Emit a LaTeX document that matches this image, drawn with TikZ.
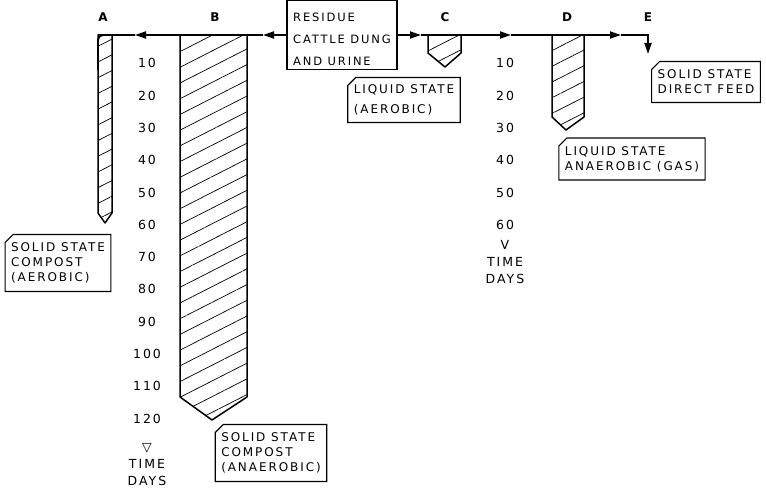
\documentclass[tikz,border=0pt]{standalone}
\usepackage{fontspec}
\newfontfamily\plotfont[LetterSpace=16]{DejaVu Sans}
\usetikzlibrary{shapes.misc, patterns.meta, arrows.meta}

\tikzset{
  flow/.style = {line width=1.8pt},
  tip/.style = {-{Triangle[length=11pt, width=7pt]}},
  bar/.style = {line width=1.5pt, line join=round,
    pattern={Lines[angle=27, distance=14pt, line width=0.7pt]}},
  tag/.style = {draw, line width=1.1pt, chamfered rectangle,
    chamfered rectangle corners=north west,
    chamfered rectangle xsep=4pt, chamfered rectangle ysep=4pt,
    align=left, inner sep=2pt,
    font=\plotfont\fontsize{12}{15}\selectfont},
  num/.style = {font=\plotfont\fontsize{12.5}{17}\selectfont},
  letter/.style = {font=\plotfont\bfseries\fontsize{12}{13}\selectfont}
}

\begin{document}
\begin{tikzpicture}[x=1pt, y=-1pt]
		\useasboundingbox (0,0) rectangle (766,489);
		%%%%%%%%%%%%%
		\draw[bar] (98,35) -- (112,35) -- (112,213) -- (105,223) -- (98,213) -- cycle;
		\draw[bar] (180,35) -- (247,35) -- (247,397) -- (212,420) -- (180,397) -- cycle;
		\draw[bar] (428,35) -- (461,35) -- (461,53) -- (445,67) -- (428,53) -- cycle;
		\draw[bar] (552,35) -- (584,35) -- (584,117) -- (566,130) -- (552,117) -- cycle;
		%%%%%%%%%%%%%
		\node[letter] (la) at (103,17) {A};
		\node[letter] (lb) at (215,17) {B};
		\node[letter] (lc) at (445,17) {C};
		\node[letter] (ld) at (567,17) {D};
		\node[letter] (le) at (648,17) {E};
		%%%%%%%%%%%%%
		\node[draw, line width=1.1pt, align=left, minimum width=110pt, minimum height=62pt,
			font=\plotfont\fontsize{11.5}{22}\selectfont] (res) at (342,35)
			{\rule{0pt}{18pt}RESIDUE\\CATTLE DUNG\\AND URINE};
		\node[tag, minimum width=99pt, minimum height=57pt] (aer) at (58,263)
			{SOLID STATE\\COMPOST\\(AEROBIC)};
		\node[tag, minimum width=109pt, minimum height=57pt] (ana) at (271,453)
			{SOLID STATE\\COMPOST\\(ANAEROBIC)};
		\node[tag, minimum width=104pt, minimum height=45pt,
			font=\plotfont\fontsize{12}{20}\selectfont] (liq) at (404,100)
			{LIQUID STATE\\(AEROBIC)};
		\node[tag, minimum width=131pt, minimum height=42pt] (gas) at (632,159)
			{LIQUID STATE\\ANAEROBIC (GAS)};
		\node[tag, minimum width=100pt, minimum height=41pt] (feed) at (706,82)
			{SOLID STATE\\DIRECT FEED};
		%%%%%%%%%%%%%
		\coordinate (kB) at (263,35); \coordinate (kA) at (135,35);
		\coordinate (kAc) at (98,35); \coordinate (kAd) at (98,70);
		\coordinate (kC) at (421,35); \coordinate (kD) at (511,35);
		\coordinate (kE) at (621,35); \coordinate (kEc) at (648,35);
		\coordinate (kEd) at (648,54);
		\draw[flow, tip] (res.west) to (kB); \draw[flow, tip] (kB) to (kA);
		\draw[flow, rounded corners=5pt] (kA) -- (kAc) -- (kAd);
		\draw[flow, tip] (res.east) to (kC); \draw[flow, tip] (kC) to (kD);
		\draw[flow, tip] (kD) to (kE);
		\draw[flow, tip] (kE) -- (kEc) -- (kEd);
		%%%%%%%%%%%%%
		\foreach \d [count=\i] in {10,20,...,120}
			\node[num] (l\d) at (147, 31+32.3*\i) {\d};
		\node[num, align=center] (ldays) at (147,465) {▽\\TIME\\DAYS};
		\foreach \d [count=\i] in {10,20,...,60}
			\node[num] (m\d) at (505, 31+32.3*\i) {\d};
		\node[num, align=center] (mdays) at (505,262) {V\\TIME\\DAYS};
\end{tikzpicture}
\end{document}
